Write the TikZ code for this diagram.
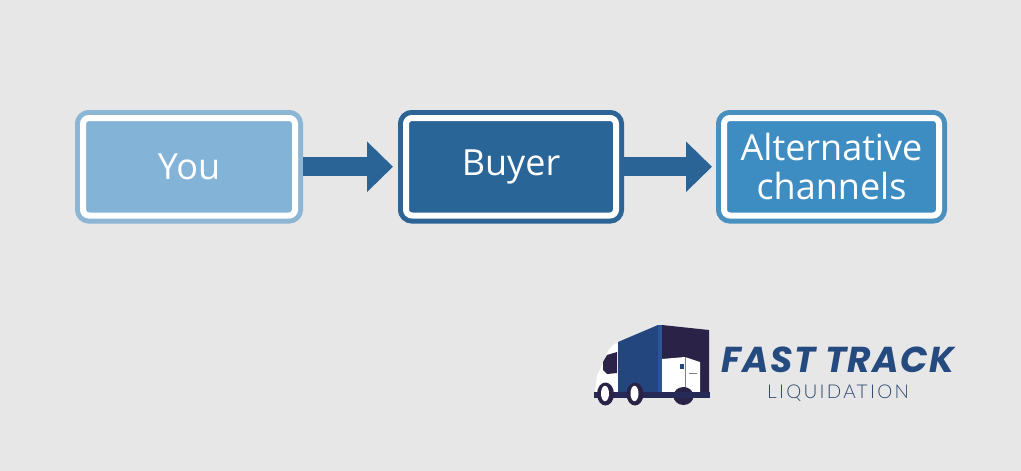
\documentclass[tikz,border=0pt]{standalone}
\usepackage{fontspec}
\setmainfont{Open Sans}
\newfontfamily\logobold[LetterSpace=4]{Poppins}
\newfontfamily\logolight[LetterSpace=12]{Lato Light}
\usetikzlibrary{arrows.meta}
\definecolor{bg}{HTML}{E7E7E8}
\definecolor{youfill}{HTML}{84B3D8}
\definecolor{yourim}{HTML}{8DB6D4}
\definecolor{buyerfill}{HTML}{2A6598}
\definecolor{buyerrim}{HTML}{2C6496}
\definecolor{altfill}{HTML}{3E8DC2}
\definecolor{altrim}{HTML}{4A90BF}
\definecolor{arrowblue}{HTML}{2A6496}
\definecolor{truckblue}{HTML}{24467F}
\definecolor{truckedge}{HTML}{2C5597}
\definecolor{truckdark}{HTML}{2A2347}
\definecolor{chassis}{HTML}{272A56}
\definecolor{logotext}{HTML}{254A7F}
\definecolor{logolighttext}{HTML}{2E4A70}
\tikzset{
  x=1pt,y=-1pt,
  flowbox/.style 2 args={rectangle,rounded corners=6pt,fill=#1,draw=white,line width=6pt,
    preaction={draw=#2,line width=16pt},outer sep=8pt,inner sep=0pt,text=white,
    font=\fontsize{36}{39}\selectfont,align=center},
  flowarrow/.style={draw=arrowblue,line width=19pt,-{Triangle[length=26pt,width=49pt]}},
}
\begin{document}
\begin{tikzpicture}
\useasboundingbox (0,0) rectangle (1021,471);
\fill[bg] (0,0) rectangle (1021,471);
\node[flowbox={youfill}{yourim},minimum width=212pt,minimum height=97.5pt] (you) at (189,166.75) {You};
\node[flowbox={buyerfill}{buyerrim},minimum width=210pt,minimum height=97.5pt] (buyer) at (511,166.75) {Buyer};
\node[flowbox={altfill}{altrim},minimum width=215pt,minimum height=97.5pt] (alt) at (831.5,166.75) {Alternative\\channels};
\draw[flowarrow,shorten >=5pt] (you) -- (buyer);
\draw[flowarrow,shorten >=4pt] (buyer) -- (alt);
% truck logo
\fill[white] (618,342) .. controls (610,346) and (607,352) .. (605,358) -- (597,376) -- (595,392) -- (618,393) -- cycle;
\fill[truckdark] (603,362) -- (607,355) -- (617,352) -- (617,373) -- (607,374) -- (603,370) -- cycle;
\fill[truckblue] (618,342) -- (658,325) -- (662,325) -- (662,393) -- (618,393) -- cycle;
\fill[truckedge] (658,325) -- (662,325) -- (662,393) -- (658,393) -- cycle;
\fill[truckdark] (662,325) -- (709,330) -- (709,393) -- (662,393) -- cycle;
\fill[white] (662,359) -- (685,357) -- (700,362) -- (700,392) -- (662,392) -- cycle;
\draw[gray,line width=0.7pt] (685,357) -- (685,392);
\draw[gray,line width=0.5pt] (689,373) -- (697,373);
\fill[truckblue] (679.5,364) rectangle (683.5,369);
\fill[truckdark] (683.5,396) ellipse[x radius=10,y radius=9];
\fill[chassis] (594,392) rectangle (710,398);
\fill[truckdark] (605.5,394) ellipse[x radius=8.5,y radius=11.5];
\fill[white] (605,393.5) ellipse[x radius=4,y radius=7.7];
\fill[truckdark] (635,394) ellipse[x radius=8.5,y radius=11.5];
\fill[white] (634.5,393.5) ellipse[x radius=4,y radius=7.7];
\node[text=logotext,inner sep=0pt,font=\logobold\bfseries\itshape\fontsize{36}{40}\selectfont] (brand) at (838,360) {FAST TRACK};
\node[text=logolighttext,inner sep=0pt,font=\logolight\fontsize{19}{22}\selectfont] (sub) at (838,393) {LIQUIDATION};
\end{tikzpicture}
\end{document}
